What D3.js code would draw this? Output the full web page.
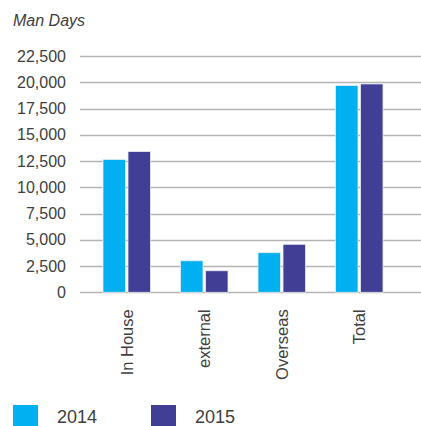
<!DOCTYPE html>
<html>
<head>
<meta charset="utf-8">
<script src="https://cdn.jsdelivr.net/npm/d3@7"></script>
<style>
  html, body { margin: 0; padding: 0; background: #fff; }
  svg { display: block; font-family: "Liberation Sans", Arial, sans-serif; }
</style>
</head>
<body>
<svg id="chart" width="421" height="426"></svg>
<script>
const categories = ["In House", "external", "Overseas", "Total"];
const seriesNames = ["2014", "2015"];
const values2014 = [12650, 3000, 3770, 19680];
const values2015 = [13400, 2050, 4570, 19840];
const yTicks = [0, 2500, 5000, 7500, 10000, 12500, 15000, 17500, 20000, 22500];
const yTitle = "Man Days";
const colors = ["#00b0f0", "#403f95"];

const seriesValues = [values2014, values2015];
const svg = d3.select("#chart");
const textColor = "#404040";

const plotLeft = 80, plotRight = 421;
const y = d3.scaleLinear().domain([0, 22500]).range([292.3, 56]);
const x0 = d3.scaleBand().domain(categories).range([88, 398]).padding(0);
const x1 = d3.scaleBand().domain(seriesNames).range([15, 62.5]).paddingInner(0.1).paddingOuter(0);

// gridlines
svg.append("g").selectAll("line").data(yTicks).join("line")
  .attr("x1", plotLeft).attr("x2", plotRight)
  .attr("y1", d => Math.round(y(d)) + 0.5).attr("y2", d => Math.round(y(d)) + 0.5)
  .attr("stroke", "#b4b4b4").attr("stroke-width", 1.3);

// y axis labels
const yAxis = d3.axisLeft(y).tickValues(yTicks).tickFormat(d3.format(",")).tickSize(0).tickPadding(14);
const gy = svg.append("g").attr("transform", `translate(${plotLeft},0)`).call(yAxis);
gy.select(".domain").remove();
gy.selectAll("text").attr("fill", textColor).style("font-size", "16px");

// bars
const groups = svg.append("g").selectAll("g").data(categories).join("g")
  .attr("transform", d => `translate(${x0(d)},0)`);
groups.selectAll("rect").data((c, i) => seriesNames.map((s, j) => ({ s, v: seriesValues[j][i], j })))
  .join("rect")
  .attr("x", d => x1(d.s))
  .attr("width", x1.bandwidth())
  .attr("y", d => y(d.v))
  .attr("height", d => y(0) - y(d.v))
  .attr("fill", d => colors[d.j])
  .attr("stroke", "#e8ecf4").attr("stroke-width", 0.8);

// x axis labels (rotated)
const xAxis = d3.axisBottom(x0).tickSize(0).tickPadding(0);
const gx = svg.append("g").attr("transform", `translate(0,${y(0)})`).call(xAxis);
gx.select(".domain").remove();
gx.selectAll("text")
  .attr("fill", textColor).style("font-size", "16.5px")
  .attr("transform", "rotate(-90)")
  .attr("text-anchor", "end")
  .attr("x", -17).attr("y", 0).attr("dy", "0.35em");

// y title
svg.append("text").attr("x", 13).attr("y", 26)
  .attr("fill", textColor).style("font-size", "16px").style("font-style", "italic")
  .text(yTitle);

// legend
const legendX = [13, 151];
const lg = svg.append("g").selectAll("g").data(seriesNames).join("g")
  .attr("transform", (d, i) => `translate(${legendX[i]},405)`);
lg.append("rect").attr("width", 25).attr("height", 25).attr("fill", (d, i) => colors[i]);
lg.append("text").attr("x", 44).attr("y", 17.5)
  .attr("fill", textColor).style("font-size", "18px").text(d => d);
</script>
</body>
</html>
